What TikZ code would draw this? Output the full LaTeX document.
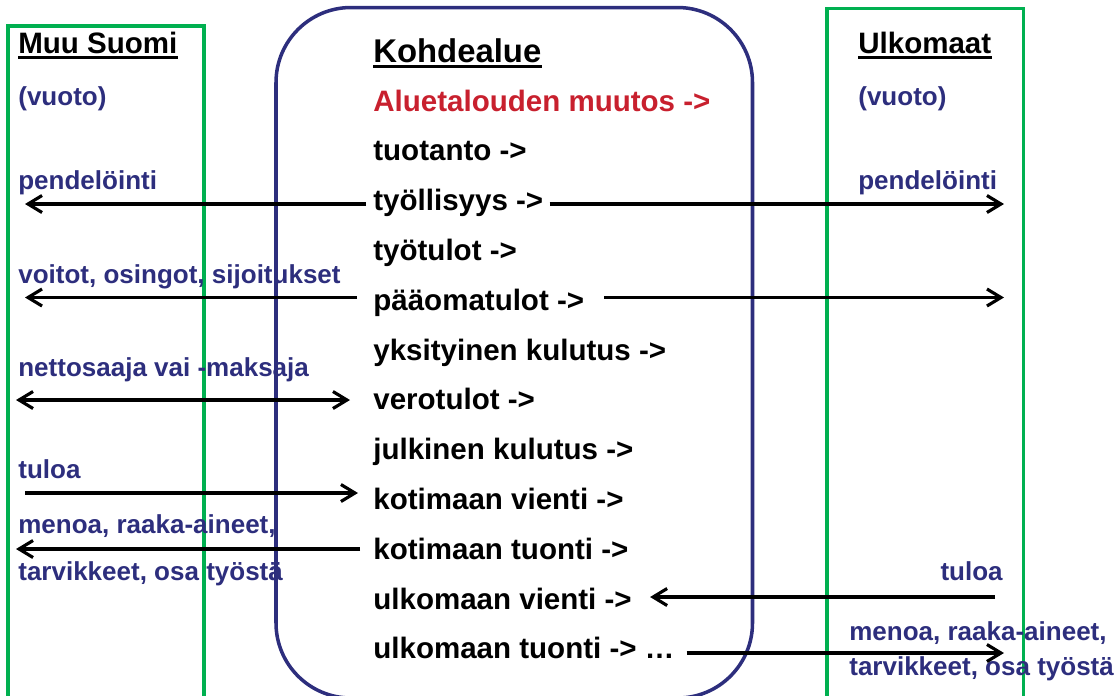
\documentclass[tikz,border=0pt]{standalone}
\usepackage{fontspec}
\setmainfont{Liberation Sans}
\usetikzlibrary{arrows.meta}
\definecolor{vuotoblue}{RGB}{45,46,125}
\definecolor{muutosred}{RGB}{200,32,46}
\definecolor{aluegreen}{RGB}{0,176,80}
\tikzset{>={Straight Barb[length=2.8mm,width=3.4mm]}}

\begin{document}
\begin{tikzpicture}[
  txt/.style = {anchor=base west, inner sep=0pt, font=\bfseries\fontsize{16.8}{20}\selectfont},
  side/.style = {anchor=base west, inner sep=0pt, text=vuotoblue, font=\bfseries\fontsize{14.8}{18}\selectfont},
  flow/.style = {->, line width=1.8pt},
  uline/.style = {line width=1.7pt},
  frame/.style = {aluegreen, line width=2pt}]
\useasboundingbox (0,0) rectangle (22.36,-13.9);
\clip (0,0) rectangle (22.36,-13.9);
% alueet
\draw[frame] (0.16,-0.52) rectangle (4.08,-14.5);
\draw[frame] (16.54,-0.17) rectangle (20.47,-14.5);
\draw[vuotoblue, line width=2pt, rounded corners=1.5cm] (5.52,-0.15) rectangle (15.05,-13.96);
% kohdealue
\node[txt, font=\bfseries\fontsize{18.7}{22}\selectfont] (kohde) at (7.46,-1.24) {Kohdealue};
\node[txt, text=muutosred] (muutos) at (7.46,-2.22) {Aluetalouden muutos ->};
\foreach \t [count=\i] in {tuotanto ->, työllisyys ->, työtulot ->, pääomatulot ->,
    yksityinen kulutus ->, verotulot ->, julkinen kulutus ->, kotimaan vienti ->,
    kotimaan tuonti ->, ulkomaan vienti ->, ulkomaan tuonti -> …}
  \node[txt] (r\i) at (7.46,{-2.22-0.996*\i}) {\t};
% muu suomi ja ulkomaat
\node[txt] (muu) at (0.36,-1.06) {Muu Suomi};
\node[txt] (ulko) at (17.16,-1.06) {Ulkomaat};
\foreach \n in {kohde, muu, ulko}
  \draw[uline] ([yshift=-2.7pt]\n.base west) -- ([yshift=-2.7pt]\n.base east);
\node[side] (vuotoL) at (0.36,-2.11) {(vuoto)};
\node[side] (vuotoR) at (17.16,-2.11) {(vuoto)};
\node[side] (pendL) at (0.36,-3.78) {pendelöinti};
\node[side] (pendR) at (17.16,-3.78) {pendelöinti};
\node[side] (voitot) at (0.36,-5.66) {voitot, osingot, sijoitukset};
\node[side] (netto) at (0.36,-7.52) {nettosaaja vai -maksaja};
\node[side] (tuloaL) at (0.36,-9.56) {tuloa};
\node[side] (menoaL) at (0.36,-10.66) {menoa, raaka-aineet,};
\node[side] (tarvL) at (0.36,-11.6) {tarvikkeet, osa työstä};
\node[side, anchor=base east] (tuloaR) at (20.06,-11.6) {tuloa};
\node[side] (menoaR) at (16.98,-12.8) {menoa, raaka-aineet,};
\node[side] (tarvR) at (16.98,-13.5) {tarvikkeet, osa työstä};
% nuolet
\coordinate (tyoL) at (0.5,-4.08);
\coordinate (tyoR) at (20.08,-4.08);
\coordinate (paaL) at (0.5,-5.95);
\coordinate (paaR) at (20.08,-5.95);
\coordinate (veroL) at (0.32,-8.0);
\coordinate (vientiL) at (0.5,-9.86);
\coordinate (tuontiL) at (0.32,-10.98);
\coordinate (uvientiR) at (19.9,-11.94);
\coordinate (utuontiR) at (20.08,-13.06);
\draw[flow, shorten <=0.14cm] (r2.west |- tyoL) -- (tyoL);
\draw[flow, shorten <=0.12cm] (r2.east |- tyoR) -- (tyoR);
\draw[flow, shorten <=0.32cm] (r4.west |- paaL) -- (paaL);
\draw[flow, shorten <=0.4cm] (r4.east |- paaR) -- (paaR);
\draw[flow, <->, shorten >=0.46cm] (veroL) -- (r6.west |- veroL);
\draw[flow, shorten >=0.3cm] (vientiL) -- (r8.west |- vientiL);
\draw[flow, shorten <=0.26cm] (r9.west |- tuontiL) -- (tuontiL);
\draw[flow, shorten >=0.36cm] (uvientiR) -- (r10.east |- uvientiR);
\draw[flow, shorten <=0.24cm] (r11.east |- utuontiR) -- (utuontiR);
\end{tikzpicture}
\end{document}
